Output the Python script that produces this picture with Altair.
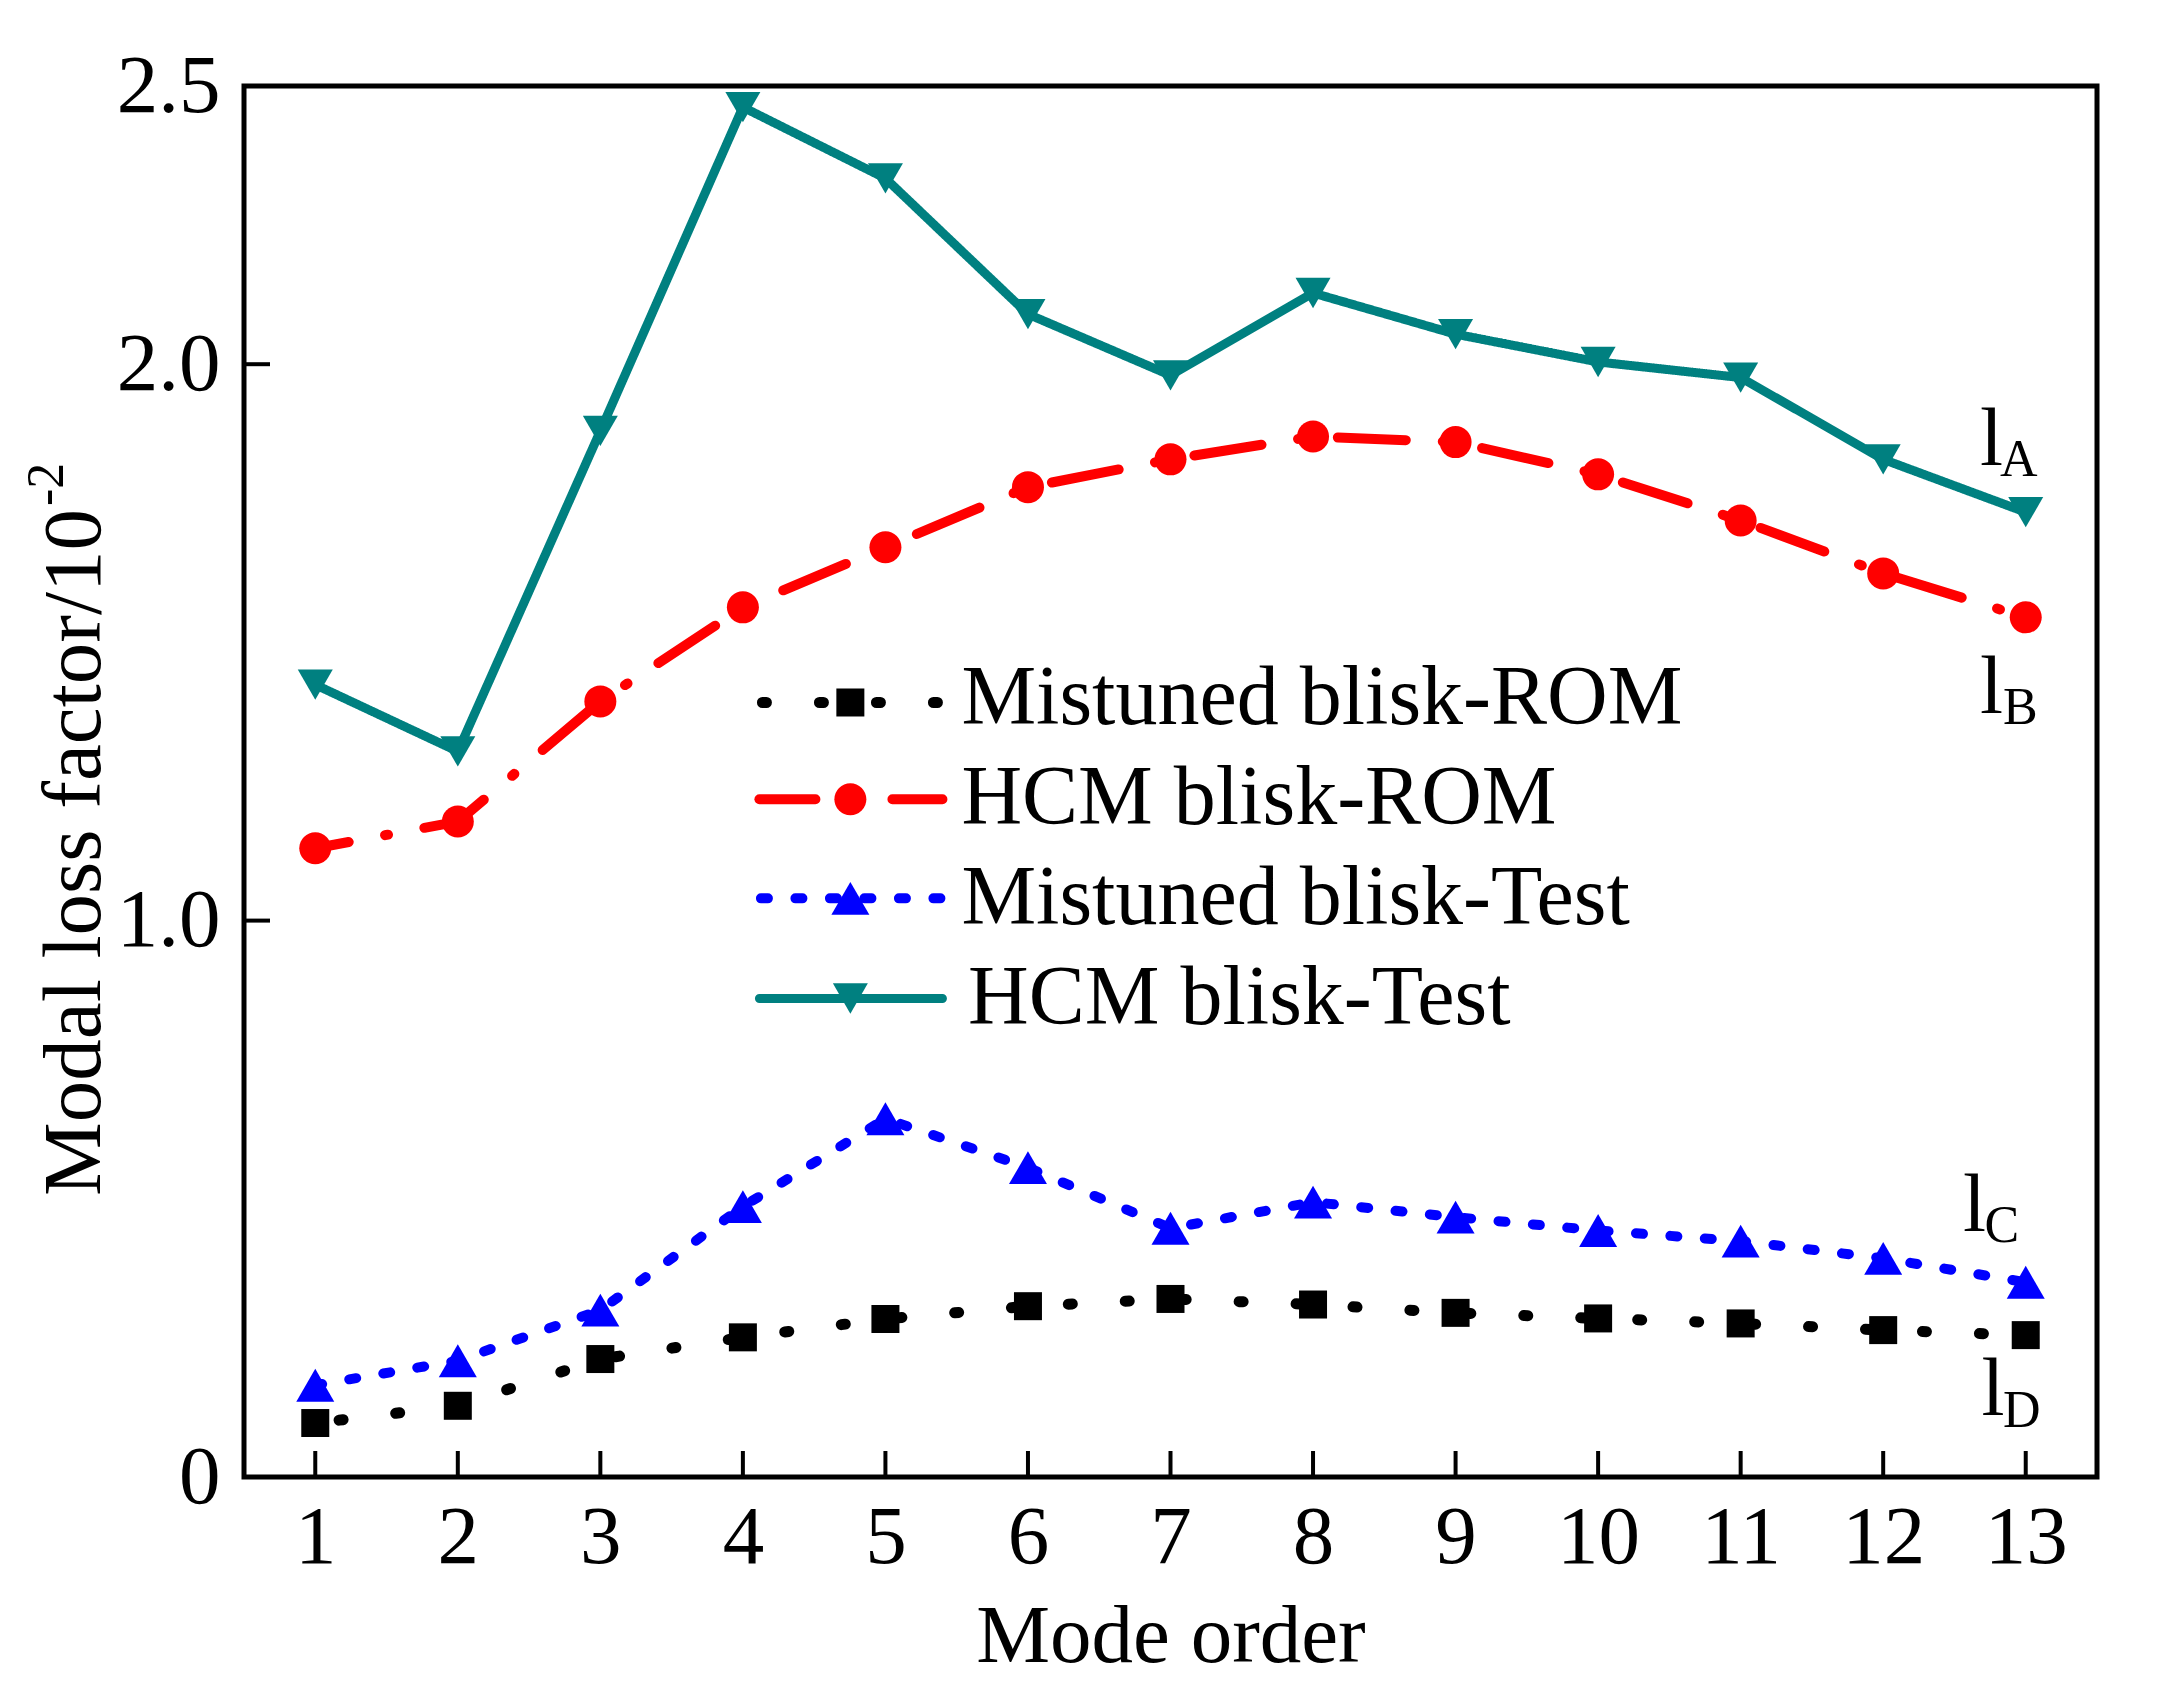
import altair as alt
import pandas as pd

# ---------------- data ----------------
modes = list(range(1, 14))
series_names = ["Mistuned blisk-ROM", "HCM blisk-ROM", "Mistuned blisk-Test", "HCM blisk-Test"]
mistuned_rom = [0.097, 0.128, 0.212, 0.251, 0.284, 0.307, 0.32, 0.31, 0.295, 0.285, 0.276, 0.264, 0.255]
hcm_rom = [1.13, 1.178, 1.394, 1.563, 1.671, 1.779, 1.829, 1.87, 1.86, 1.802, 1.719, 1.624, 1.545]
mistuned_test = [0.165, 0.209, 0.30, 0.486, 0.644, 0.556, 0.447, 0.494, 0.467, 0.443, 0.424, 0.393, 0.35]
hcm_test = [1.424, 1.304, 1.88, 2.462, 2.334, 2.09, 1.98, 2.128, 2.054, 2.004, 1.976, 1.829, 1.734]
values_by_series = [mistuned_rom, hcm_rom, mistuned_test, hcm_test]

y_tick_values = [0, 1.0, 2.0, 2.5]
y_inner_ticks = [1.0, 2.0]

# legend rows (data coordinates inside the plot)
legend_x1 = [4.116] * 4
legend_x2 = [5.40] * 4
legend_xm = [4.754] * 4
legend_xt = [5.533, 5.533, 5.533, 5.58]
legend_yc = [1.392, 1.218, 1.040, 0.860]
legend_yt = [1.354, 1.173, 0.993, 0.815]

# curve labels l_A .. l_D
lab_main = ["l", "l", "l", "l"]
lab_main_x = [12.68, 12.68, 12.56, 12.69]
lab_main_y = [1.818, 1.374, 0.442, 0.112]
lab_sub = ["A", "B", "C", "D"]
lab_sub_x = [12.82, 12.84, 12.71, 12.84]
lab_sub_y = [1.799, 1.353, 0.423, 0.090]

y_title_main = "Modal loss factor/10"
y_title_sup = "-2"
x_title = "Mode order"

# ---------------- styles ----------------
colors = ["#000000", "#ff0000", "#0000ff", "#008080"]
shapes = ["square", "circle", "triangle-up", "triangle-down"]
sizes = [784, 1024, 1444, 1225]
widths = [11, 10, 10, 9]
dashes = [[4, 53], [68, 37, 3, 37], [7, 27.5], [1, 0]]
dash_offsets = [33, 34, 0, 0]
legend_offsets = [54, 12, 33, 0]

FONT = "Liberation Serif"
W, H = 1853, 1391

rows = []
for name, vals in zip(series_names, values_by_series):
    for m, v in zip(modes, vals):
        rows.append({"series": name, "mode": m, "value": v})
df = pd.DataFrame(rows)

leg = pd.DataFrame({
    "series": series_names,
    "x1": legend_x1, "x2": legend_x2, "xm": legend_xm, "xt": legend_xt,
    "yc": legend_yc, "yt": legend_yt,
})

xs = alt.Scale(domain=[0.5, 13.5], nice=False, zero=False)
ys = alt.Scale(domain=[0, 2.5], nice=False, zero=False)

x_axis = alt.Axis(
    values=modes, ticks=False, domain=False, grid=False,
    labelExpr="format(datum.value, 'd')", labelOverlap=False, labelFlush=False,
    labelFont=FONT, labelFontSize=83, labelColor="black", labelPadding=19,
    title=x_title, titleFont=FONT, titleFontSize=83, titleFontWeight="normal",
    titleColor="black", titlePadding=16,
)
y_axis = alt.Axis(
    values=y_tick_values, ticks=False, domain=False, grid=False,
    labelFont=FONT, labelFontSize=83, labelColor="black", labelPadding=24,
    labelExpr="datum.value == 0 ? '0' : format(datum.value, '.1f')",
    labelOverlap=False, labelFlush=False,
    title=None,
)


def X(field):
    return alt.X(field, type="quantitative", scale=xs, axis=x_axis)


def Y(field):
    return alt.Y(field, type="quantitative", scale=ys, axis=y_axis)


layers = []

# inward ticks
xt_df = pd.DataFrame({"mode": modes})
layers.append(
    alt.Chart(xt_df).mark_rule(color="black", strokeWidth=4).encode(
        x=X("mode"), y=alt.value(H), y2=alt.value(H - 26)
    )
)
yt_df = pd.DataFrame({"value": y_inner_ticks})
layers.append(
    alt.Chart(yt_df).mark_rule(color="black", strokeWidth=4).encode(
        y=Y("value"), x=alt.value(0), x2=alt.value(26)
    )
)

for i, name in enumerate(series_names):
    sub = df[df["series"] == name]
    line = alt.Chart(sub).mark_line(
        color=colors[i], strokeWidth=widths[i], strokeDash=dashes[i],
        strokeDashOffset=dash_offsets[i], strokeCap="round", strokeJoin="round",
    ).encode(x=X("mode"), y=Y("value"))
    pts = alt.Chart(sub).mark_point(
        shape=shapes[i], size=sizes[i], filled=True, color=colors[i], opacity=1, strokeWidth=0
    ).encode(x=X("mode"), y=Y("value"))
    layers += [line, pts]

    lsub = leg[leg["series"] == name]
    lrule = alt.Chart(lsub).mark_rule(
        color=colors[i], strokeWidth=widths[i], strokeDash=dashes[i],
        strokeDashOffset=legend_offsets[i], strokeCap="round",
    ).encode(x=X("x1"), x2="x2:Q", y=Y("yc"))
    lpt = alt.Chart(lsub).mark_point(
        shape=shapes[i], size=sizes[i], filled=True, color=colors[i], opacity=1, strokeWidth=0
    ).encode(x=X("xm"), y=Y("yc"))
    ltxt = alt.Chart(lsub).mark_text(
        font=FONT, fontSize=84, color="black", align="left", baseline="alphabetic"
    ).encode(x=X("xt"), y=Y("yt"), text="series:N")
    layers += [lrule, lpt, ltxt]

# curve labels
lab_df = pd.DataFrame({"t": lab_main, "x": lab_main_x, "y": lab_main_y})
sub_df = pd.DataFrame({"t": lab_sub, "x": lab_sub_x, "y": lab_sub_y})
layers.append(
    alt.Chart(lab_df).mark_text(font=FONT, fontSize=83, color="black", align="left", baseline="alphabetic")
    .encode(x=X("x"), y=Y("y"), text="t:N")
)
layers.append(
    alt.Chart(sub_df).mark_text(font=FONT, fontSize=52, color="black", align="left", baseline="alphabetic")
    .encode(x=X("x"), y=Y("y"), text="t:N")
)

# y title with superscript
layers.append(
    alt.Chart(pd.DataFrame({"t": [y_title_main]})).mark_text(
        font=FONT, fontSize=83, color="black", align="left", baseline="alphabetic", angle=270
    ).encode(text="t:N", x=alt.value(-144), y=alt.value(1110))
)
layers.append(
    alt.Chart(pd.DataFrame({"t": [y_title_sup]})).mark_text(
        font=FONT, fontSize=52, color="black", align="left", baseline="alphabetic", angle=270
    ).encode(text="t:N", x=alt.value(-181), y=alt.value(420))
)

chart = alt.layer(*layers).properties(
    width=W, height=H,
    autosize=alt.AutoSizeParams(type="none"),
    padding={"left": 236, "top": 78, "right": 40, "bottom": 207},
    background="white",
).configure_view(stroke="black", strokeWidth=5)

chart.save("out.html", embed_options={"renderer": "svg", "actions": False})
